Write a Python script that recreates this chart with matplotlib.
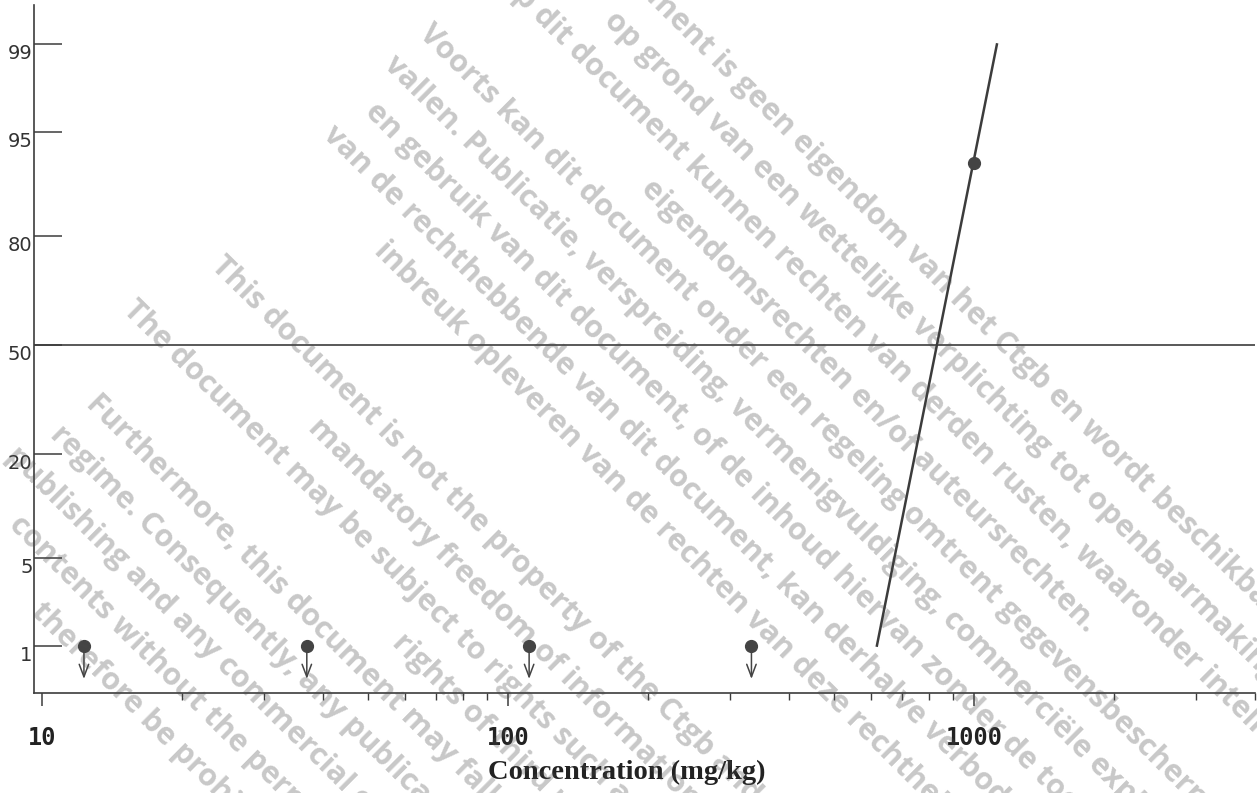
import numpy as np
import matplotlib
matplotlib.use('Agg')
import matplotlib.pyplot as plt
from matplotlib.ticker import FixedLocator, FixedFormatter, LogLocator, NullFormatter
from matplotlib.transforms import offset_copy
from statistics import NormalDist

# observed mortality per concentration (0 % plotted at the 1 % line with a down arrow)
conc = [12.3, 37, 111, 333, 1000]
mortality = [0, 0, 0, 0, 92]
# fitted probit line end points
fit_conc = [619, 1120]
fit_mortality = [1, 99]

y_ticks = [1, 5, 20, 50, 80, 95, 99]
x_ticks = [10, 100, 1000]
x_ticklabels = ['10', '100', '1000']

watermark_nl = [
  "Dit document is geen eigendom van het Ctgb en wordt beschikbaar gesteld",
  "op grond van een wettelijke verplichting tot openbaarmaking.",
  "Op dit document kunnen rechten van derden rusten, waaronder intellectuele",
  "eigendomsrechten en/of auteursrechten.",
  "Voorts kan dit document onder een regeling omtrent gegevensbescherming",
  "vallen. Publicatie, verspreiding, vermenigvuldiging, commerciële exploitatie",
  "en gebruik van dit document, of de inhoud hiervan zonder de toestemming",
  "van de rechthebbende van dit document, kan derhalve verboden zijn en",
  "inbreuk opleveren van de rechten van deze rechthebbende.",
]
watermark_en = [
  "This document is not the property of the Ctgb and has been made public by virtue of a",
  "mandatory freedom of information regime.",
  "The document may be subject to rights such as intellectual property and copy",
  "rights of third parties.",
  "Furthermore, this document may fall under a regulatory data protection",
  "regime. Consequently, any publication, distribution, reproduction and/or",
  "publishing and any commercial exploitation and use of this document or its",
  "contents without the permission of the owner of this document may",
  "therefore be prohibited and violate the rights of its owner.",
]
# where each watermark line starts along its direction (pixels)
starts_nl = [330, 443, 337, 588, 321, 318, 338, 324, 442]
starts_en = [337, 520, 306, 731, 346, 342, 325, 376, 453]


def probit(p):
  return NormalDist().inv_cdf(p / 100.0)


W, H = 1257, 793
fig = plt.figure(figsize=(W / 100, H / 100), dpi=100)
ax = fig.add_axes([34 / W, 1 - 693 / H, 1220.5 / W, 688 / H])

ink = '#3c3c3c'
ax.set_xscale('log')
ax.set_xlim(9.61, 4000)
ax.set_ylim(probit(0.354), probit(99.575))

ax.axhline(probit(50), color=ink, lw=1.2, zorder=2)
ax.plot(fit_conc, [probit(m) for m in fit_mortality], color=ink, lw=1.8, zorder=3)

shown = [max(m, 1) for m in mortality]
ax.plot(conc, [probit(m) for m in shown], 'o', ms=8.5, color='#444444', zorder=4)
below = offset_copy(ax.transData, fig=fig, x=0, y=-24, units='points')
for c, m, s in zip(conc, mortality, shown):
  if m == 0:
    ax.annotate('', xy=(c, probit(s)), xycoords=below,
                xytext=(c, probit(s)), textcoords='data',
                arrowprops=dict(arrowstyle='->,head_length=0.45,head_width=0.17',
                                color='#444444', lw=1.1, shrinkA=0, shrinkB=0,
                                mutation_scale=20))

for side in ['top', 'right']:
  ax.spines[side].set_visible(False)
for side in ['left', 'bottom']:
  ax.spines[side].set_color(ink)
  ax.spines[side].set_linewidth(1.2)

ax.yaxis.set_major_locator(FixedLocator([probit(v) for v in y_ticks]))
ax.yaxis.set_major_formatter(FixedFormatter([str(v) for v in y_ticks]))
ax.tick_params(axis='y', direction='in', length=20, width=1.1, color=ink,
               pad=1, labelsize=14, labelcolor='#333333')
for lbl in ax.get_yticklabels():
  lbl.set_va('top')

ax.xaxis.set_major_locator(FixedLocator(x_ticks))
ax.xaxis.set_major_formatter(FixedFormatter(x_ticklabels))
ax.xaxis.set_minor_locator(LogLocator(base=10, subs=np.arange(2, 10)))
ax.xaxis.set_minor_formatter(NullFormatter())
ax.tick_params(axis='x', which='major', direction='out', length=9, width=1.1,
               color=ink, pad=15, labelsize=17, labelcolor='#222222')
ax.tick_params(axis='x', which='minor', direction='out', length=5, width=1.0, color=ink)
for lbl in ax.get_xticklabels():
  lbl.set_family('DejaVu Sans Mono')
  lbl.set_weight('bold')

fig.text(627 / W, 1 - 772 / H, 'Concentration (mg/kg)', ha='center', va='center',
         family='Liberation Serif', weight='bold', fontsize=20.5, color='#222222')

# watermark overlay, translucent so the dark chart marks stay visible through it
renderer = fig.canvas.get_renderer()
wm = dict(family='Open Sans', weight='bold', color='#484848', alpha=0.3)


def text_width(s, size):
  t = fig.text(0, 0, s, fontsize=size, **wm)
  w = t.get_window_extent(renderer).width
  t.remove()
  return w


wm_size = 21 * 378 / text_width("Voorts kan dit document", 21)
em = wm_size * 100 / 72
rot = 44.8
ang = np.deg2rad(rot)
d = np.array([np.cos(ang), np.sin(ang)])
nv = np.array([-np.sin(ang), np.cos(ang)])
spacing = 46.5


def draw_block(lines, starts, first_cap):
  for i, (s, st) in enumerate(zip(lines, starts)):
    p = st * d + (first_cap + i * spacing + 0.714 * em) * nv
    fig.text(p[0] / W, 1 - p[1] / H, s, rotation=-rot, rotation_mode='anchor',
             ha='left', va='baseline', fontsize=wm_size, zorder=10, **wm)


draw_block(watermark_nl, starts_nl, -291.6 - 4 * spacing)
draw_block(watermark_en, starts_en, 20)

plt.savefig('out.png', dpi=100)
